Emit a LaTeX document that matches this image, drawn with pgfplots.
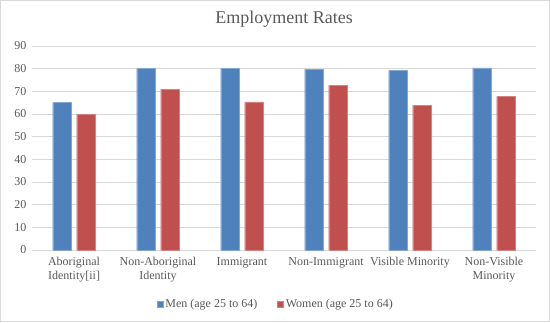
\documentclass[border=0pt]{standalone}
\usepackage{fontspec}
\setmainfont{Liberation Serif}
\usepackage{pgfplots}
\pgfplotsset{compat=1.18}
\definecolor{menblue}{HTML}{4F81BD}
\definecolor{womenred}{HTML}{C0504D}
\definecolor{txtgray}{HTML}{595959}
\definecolor{gridgray}{HTML}{D9D9D9}
\begin{document}
\begin{tikzpicture}
\begin{axis}[
  scale only axis, width=504pt, height=204pt,
  xmin=-0.5, xmax=5.5, ymin=0, ymax=90,
  ytick={0,10,...,90},
  xtick={0,1,2,3,4,5},
  xticklabels={{Aboriginal\\Identity[ii]},{Non-Aboriginal\\Identity},{Immigrant},{Non-Immigrant},{Visible Minority},{Non-Visible\\Minority}},
  xticklabel style={align=center, font=\fontsize{12}{13.5}\selectfont, text=txtgray, anchor=north, yshift=-4pt},
  yticklabel style={font=\fontsize{12}{13}\selectfont, text=txtgray, xshift=-2pt},
  /pgf/number format/assume math mode=true,
  axis line style={draw=none},
  major tick length=0pt,
  ymajorgrids, grid style={gridgray, line width=0.8pt},
  title={Employment Rates},
  title style={font=\fontsize{18}{20}\selectfont, text=txtgray, at={(0.5,1)}, anchor=center, yshift=21pt},
  legend style={at={(0.484,-0.265)}, anchor=center, draw=none, legend columns=2, font=\fontsize{12}{13}\selectfont, text=txtgray},
  legend image code/.code={\fill[#1] (0pt,-3pt) rectangle (6pt,3pt);},
]
\addplot[ybar, bar width=18.5pt, bar shift=-12pt, fill=menblue, draw=menblue!70!white] coordinates {(0,65.0) (1,80.0) (2,80.0) (3,79.7) (4,79.3) (5,80.4)};
\addlegendentry{Men (age 25 to 64)\kern18pt}
\addplot[ybar, bar width=18.5pt, bar shift=12pt, fill=womenred, draw=womenred!70!white] coordinates {(0,60.0) (1,71.0) (2,65.4) (3,72.6) (4,63.9) (5,67.7)};
\addlegendentry{Women (age 25 to 64)}
\end{axis}
\draw[gridgray, line width=1pt] (-31.5pt,-71.5pt) rectangle (517.5pt,249.5pt);
\useasboundingbox (-32pt,-72pt) rectangle (518pt,250pt);
\end{tikzpicture}
\end{document}
